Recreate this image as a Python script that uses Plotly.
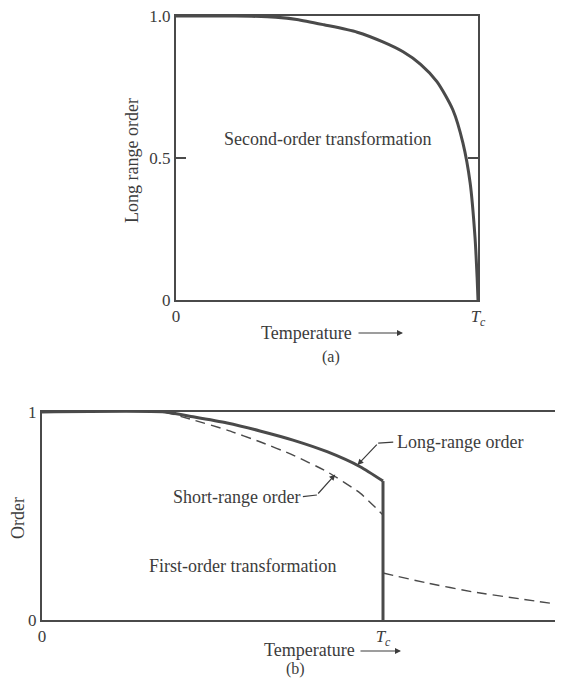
import plotly.graph_objects as go

# ---------------- data ----------------
# Panel (a): second-order transformation, long range order vs T/Tc
a_temp = [0, 0.15, 0.25, 0.33, 0.4, 0.49, 0.6, 0.687, 0.752, 0.81, 0.864,
          0.917, 0.95, 0.974, 0.99, 0.997, 1.0]
a_order = [1.0, 1.0, 0.999, 0.996, 0.988, 0.969, 0.943, 0.908, 0.874, 0.83,
           0.769, 0.669, 0.553, 0.412, 0.222, 0.081, 0.0]

# Panel (b): first-order transformation
b_long_temp = [0, 0.36, 0.443, 0.543, 0.639, 0.736, 0.836, 0.933, 1.0]
b_long_order = [1.0, 1.0, 0.977, 0.947, 0.909, 0.865, 0.809, 0.737, 0.668]
b_drop_temp = [1.0, 1.0]
b_drop_order = [0.668, 0.0]

b_short_temp = [0.36, 0.443, 0.543, 0.639, 0.736, 0.836, 0.933, 1.0]
b_short_order = [1.0, 0.962, 0.913, 0.857, 0.793, 0.713, 0.61, 0.505]

b_short_hi_temp = [1.0, 1.129, 1.264, 1.4, 1.528]
b_short_hi_order = [0.226, 0.178, 0.135, 0.102, 0.072]

a_yticks = [0, 0.5, 1.0]
a_yticklabels = ["0", "0.5", "1.0"]
b_yticks = [0, 1]
b_yticklabels = ["0", "1"]
x_ticks = [0, 1]
x_ticklabels = ["0", "<i>T</i><sub><i>c</i></sub>"]

# ---------------- figure ----------------
OFF = 8                 # page body margin
W, H = 563 - OFF, 678 - OFF
FONT = "Liberation Serif, DejaVu Serif, serif"
TXT = "#3c3c3c"
LINE = "#4a4a4a"


def px(x):
    return (x - OFF) / W


def py(y):
    return 1 - (y - OFF) / H


fig = go.Figure()
fig.add_trace(go.Scatter(x=a_temp, y=a_order, mode="lines", xaxis="x", yaxis="y",
                         line=dict(color=LINE, width=3, shape="spline", smoothing=0.7),
                         showlegend=False, hoverinfo="skip"))
fig.add_trace(go.Scatter(x=b_long_temp, y=b_long_order, mode="lines", xaxis="x2", yaxis="y2",
                         line=dict(color=LINE, width=3, shape="spline", smoothing=0.6),
                         showlegend=False, hoverinfo="skip"))
fig.add_trace(go.Scatter(x=b_drop_temp, y=b_drop_order, mode="lines", xaxis="x2", yaxis="y2",
                         line=dict(color=LINE, width=3),
                         showlegend=False, hoverinfo="skip"))
fig.add_trace(go.Scatter(x=b_short_temp, y=b_short_order, mode="lines", xaxis="x2", yaxis="y2",
                         line=dict(color=LINE, width=1.4, dash="10px,6px", shape="spline", smoothing=0.5),
                         showlegend=False, hoverinfo="skip"))
fig.add_trace(go.Scatter(x=b_short_hi_temp, y=b_short_hi_order, mode="lines", xaxis="x2", yaxis="y2",
                         line=dict(color=LINE, width=1.4, dash="10px,6px", shape="spline", smoothing=0.5),
                         showlegend=False, hoverinfo="skip"))

axis_common = dict(showgrid=False, zeroline=False, showline=True, linecolor=LINE, linewidth=2,
                   automargin=False, ticklabeloverflow="allow",
                   tickfont=dict(family=FONT, size=17, color=TXT), fixedrange=True)

fig.update_layout(
    width=W, height=H,
    margin=dict(l=0, r=0, t=0, b=0, pad=0),
    paper_bgcolor="white", plot_bgcolor="white",
    font=dict(family=FONT, color=TXT),
    xaxis=dict(domain=[px(176), px(478)], range=[0, 1], anchor="y", mirror=True,
               tickmode="array", tickvals=x_ticks, ticktext=x_ticklabels, ticks="",
               **axis_common),
    yaxis=dict(domain=[py(300), py(16)], range=[0, 1], anchor="x", mirror="ticks",
               tickmode="array", tickvals=a_yticks, ticktext=a_yticklabels,
               ticks="inside", ticklen=10, tickwidth=1.5, tickcolor=LINE,
               **axis_common),
    xaxis2=dict(domain=[px(42), 1.0], range=[0, 521 / 341], anchor="y2", mirror=True,
                tickmode="array", tickvals=x_ticks, ticktext=x_ticklabels, ticks="",
                **axis_common),
    yaxis2=dict(domain=[py(620), py(412)], range=[0, 1], anchor="x2", mirror=False,
                tickmode="array", tickvals=b_yticks, ticktext=b_yticklabels, ticks="",
                **axis_common),
)

tf = dict(family=FONT, size=18, color=TXT)
tfs = dict(family=FONT, size=16, color=TXT)
C = dict(xanchor="center", yanchor="middle", showarrow=False, font=tf)
CS = dict(xanchor="center", yanchor="middle", showarrow=False, font=tfs)
ann = []
# panel (a) texts
ann.append(dict(text="Second-order transformation", x=0.5, y=0.566, xref="x", yref="y", **C))
ann.append(dict(text="Long range order", x=px(132), y=py(161), xref="paper", yref="paper",
                textangle=-90, **C))
ann.append(dict(text="Temperature", x=px(306), y=py(333), xref="paper", yref="paper", **C))
ann.append(dict(text="", x=px(403), y=py(333), xref="paper", yref="paper",
                ax=-46, ay=0, showarrow=True, arrowhead=2, arrowsize=1, arrowwidth=1.2,
                arrowcolor=TXT))
ann.append(dict(text="(a)", x=px(331), y=py(357), xref="paper", yref="paper", **CS))
# panel (b) texts
ann.append(dict(text="First-order transformation", x=0.587, y=0.26, xref="x2", yref="y2", **C))
ann.append(dict(text="Short-range order", x=0.761, y=0.593, xref="x2", yref="y2",
                xanchor="right", yanchor="middle", showarrow=False, font=tf))
ann.append(dict(text="Long-range order", x=1.035, y=0.855, xref="x2", yref="y2",
                xanchor="left", yanchor="middle", showarrow=False, font=tf))
ann.append(dict(text="", x=0.86, y=0.70, xref="x2", yref="y2",
                ax=0.806, ay=0.601, axref="x2", ayref="y2",
                showarrow=True, arrowhead=2, arrowsize=1, arrowwidth=1.2, arrowcolor=TXT))
ann.append(dict(text="", x=0.925, y=0.745, xref="x2", yref="y2",
                ax=0.986, ay=0.85, axref="x2", ayref="y2",
                showarrow=True, arrowhead=2, arrowsize=1, arrowwidth=1.2, arrowcolor=TXT))
ann.append(dict(text="Order", x=px(18), y=py(518), xref="paper", yref="paper",
                textangle=-90, **C))
ann.append(dict(text="Temperature", x=px(309), y=py(650), xref="paper", yref="paper", **C))
ann.append(dict(text="", x=px(401), y=py(651), xref="paper", yref="paper",
                ax=-42, ay=0, showarrow=True, arrowhead=2, arrowsize=1, arrowwidth=1.2,
                arrowcolor=TXT))
ann.append(dict(text="(b)", x=px(295), y=py(669), xref="paper", yref="paper", **CS))
fig.update_layout(annotations=ann)

shapes = [
    dict(type="path", xref="x2", yref="y2",
         path="M 0.765 0.593 L 0.806 0.601", line=dict(color=TXT, width=1.2)),
    dict(type="path", xref="x2", yref="y2",
         path="M 0.986 0.85 L 1.03 0.855", line=dict(color=TXT, width=1.2)),
]
fig.update_layout(shapes=shapes)

fig.write_html("out.html")
